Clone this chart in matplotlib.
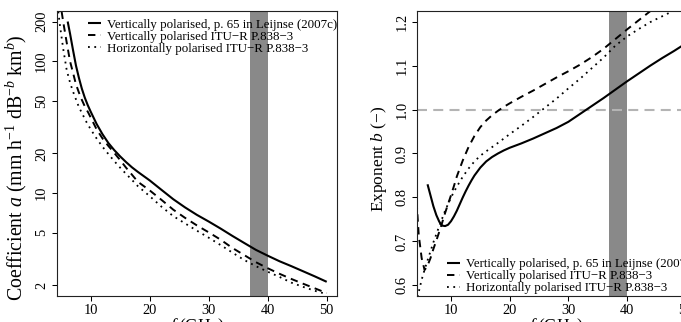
import matplotlib
matplotlib.use('Agg')
import matplotlib.pyplot as plt

plt.rcParams['font.family'] = ['Liberation Serif', 'DejaVu Serif']
plt.rcParams['mathtext.fontset'] = 'custom'
plt.rcParams['mathtext.rm'] = 'Liberation Serif'
plt.rcParams['mathtext.it'] = 'Liberation Serif:italic'
plt.rcParams['mathtext.bf'] = 'Liberation Serif:bold'

# ---------------- data ----------------
# Left panel: coefficient a
f_leij_a = [6.1, 6.5, 7.0, 7.5, 8.0, 8.5, 9.0, 9.5, 10, 11, 12, 13, 14, 15, 16, 17, 18,
            20, 22, 24, 26, 28, 30, 32, 34, 36, 38, 40, 42, 44, 46, 48, 50]
a_leij = [200, 162, 122, 93, 75, 62, 53, 46.5, 41.5, 33.5, 28, 24, 21.2, 19.0, 17.2, 15.7, 14.5,
          12.5, 10.6, 9.0, 7.8, 6.85, 6.1, 5.4, 4.75, 4.2, 3.72, 3.36, 3.05, 2.8, 2.56, 2.34, 2.13]

f_itu_v_a = [4.6, 5.0, 5.36, 5.93, 6.5, 7.0, 7.5, 8.0, 8.5, 9.0, 9.6, 10, 11, 12, 13, 14, 15, 16,
             17, 18, 20, 22, 24, 26, 28, 30, 32, 34, 36, 38, 40, 42, 44, 46, 48, 50]
a_itu_v = [330, 250, 197, 139, 100, 82, 67, 58, 51, 45.5, 40.7, 37.5, 30.5, 26, 22.8, 20.2, 17.8, 15.6,
           13.8, 12.2, 10.5, 8.9, 7.5, 6.5, 5.7, 5.05, 4.45, 3.85, 3.4, 3.0, 2.7, 2.45, 2.24, 2.06, 1.9, 1.75]

f_itu_h_a = [4.3, 4.5, 4.8, 5.0, 5.36, 5.93, 6.5, 7.0, 7.5, 8.0, 8.7, 9.3, 10, 11, 12, 13, 14, 15,
             16, 17, 18, 20, 22, 24, 26, 28, 30, 32, 34, 36, 38, 40, 42, 44, 46, 48, 50]
a_itu_h = [300, 240, 185, 160, 123, 86, 69, 59, 51.5, 45, 39, 34.5, 30.5, 26, 22.5, 19.8, 17.5, 15.6,
           14.0, 12.6, 11.3, 9.5, 7.9, 6.7, 5.9, 5.2, 4.6, 4.05, 3.55, 3.12, 2.8, 2.54, 2.32, 2.1, 1.95, 1.82, 1.72]

# Right panel: exponent b
f_leij_b = [6.0, 6.5, 7.0, 7.5, 8.0, 8.5, 9.0, 9.5, 10.0, 10.5, 11.0, 11.5, 12.0, 12.5, 13.0, 13.5,
            14.0, 15.0, 16.0, 17.0, 18.0, 19.0, 20.0, 22.0, 24.0, 26.0, 28.0, 30.0, 32.0, 34.0,
            36.0, 38.0, 40.0, 42.0, 44.0, 46.0, 48.0, 50.0]
b_leij = [0.830, 0.805, 0.780, 0.760, 0.745, 0.736, 0.735, 0.738, 0.746, 0.757, 0.770, 0.785, 0.800,
          0.814, 0.827, 0.839, 0.850, 0.868, 0.882, 0.892, 0.900, 0.907, 0.913, 0.923, 0.934, 0.946,
          0.958, 0.972, 0.990, 1.008, 1.026, 1.045, 1.064, 1.082, 1.100, 1.117, 1.133, 1.150]

f_itu_v_b = [4.0, 4.24, 4.5, 5.0, 5.5, 6.0, 6.5, 7.0, 7.5, 8.0, 8.5, 9.0, 9.5, 10, 10.5, 11, 11.5,
             12, 13, 14, 15, 16, 17, 18, 19, 20, 22, 24, 26, 28, 30, 32, 34, 36, 38, 40, 42, 44,
             46, 48, 50]
b_itu_v = [0.82, 0.77, 0.715, 0.662, 0.635, 0.645, 0.662, 0.683, 0.702, 0.722, 0.743, 0.765, 0.785,
           0.805, 0.826, 0.848, 0.866, 0.884, 0.915, 0.940, 0.960, 0.975, 0.987, 0.997, 1.006, 1.014,
           1.029, 1.043, 1.058, 1.073, 1.087, 1.102, 1.119, 1.138, 1.160, 1.182, 1.203, 1.224,
           1.245, 1.265, 1.285]

f_itu_h_b = [4.0, 4.5, 5.0, 5.5, 6.0, 7.0, 8.0, 9.0, 10.0, 11.0, 12.0, 13.0, 14.0, 15.0, 16.0, 18.0,
             20.0, 22.0, 24.0, 26.0, 28.0, 30.0, 32.0, 34.0, 36.0, 38.0, 40.0, 42.0, 44.0, 46.0,
             48.0, 50.0]
b_itu_h = [0.545, 0.585, 0.613, 0.636, 0.657, 0.698, 0.735, 0.770, 0.800, 0.825, 0.847, 0.866, 0.882,
           0.895, 0.905, 0.924, 0.944, 0.963, 0.983, 1.004, 1.025, 1.048, 1.07, 1.094, 1.118, 1.145,
           1.166, 1.183, 1.199, 1.212, 1.225, 1.238]

band = (37, 40)
labels = ["Vertically polarised, p. 65 in Leijnse (2007c)",
          "Vertically polarised ITU\u2212R P.838\u22123",
          "Horizontally polarised ITU\u2212R P.838\u22123"]
xticks = [10, 20, 30, 40, 50]
a_ticks = [2, 5, 10, 20, 50, 100, 200]
b_ticks = [0.6, 0.7, 0.8, 0.9, 1.0, 1.1, 1.2]

# ---------------- figure ----------------
W, H = 681, 322
fig = plt.figure(figsize=(W / 100, H / 100), dpi=100)

def px_axes(x0, x1, y0, y1):
    return fig.add_axes([x0 / W, 1 - y1 / H, (x1 - x0) / W, (y1 - y0) / H])

ax1 = px_axes(56.7, 337.1, 11, 296)
ax2 = px_axes(417.2, 696.0, 11, 296)
AW1, AW2, AH = 337.1 - 56.7, 696.0 - 417.2, 285.0

solid_kw = dict(color='black', lw=1.5, linestyle='-', solid_capstyle='butt')
dash_kw = dict(color='black', lw=1.4, linestyle=(0, (3.8, 2.8)))
dot_kw = dict(color='black', lw=1.3, linestyle=(0, (1.0, 2.5)))

for ax in (ax1, ax2):
    ax.axvspan(band[0], band[1], color='#898989', lw=0, zorder=0)
    ax.set_xlim(4.24, 51.76)
    ax.set_xticks(xticks)
    ax.set_xticklabels([str(t) for t in xticks])
    ax.tick_params(direction='out', length=3.3, width=0.75, labelsize=10.4, color='black')
    ax.tick_params(axis='x', pad=2.5)
    ax.tick_params(axis='y', pad=3.0)
    for s in ax.spines.values():
        s.set_linewidth(0.8)
        s.set_color('#222222')

# left panel
ax1.set_yscale('log')
l1, = ax1.plot(f_leij_a, a_leij, **solid_kw)
l2, = ax1.plot(f_itu_v_a, a_itu_v, **dash_kw)
l3, = ax1.plot(f_itu_h_a, a_itu_h, **dot_kw)
ax1.set_ylim(1.663, 240.4)
ax1.set_yticks(a_ticks)
ax1.set_yticklabels([str(t) for t in a_ticks])
ax1.yaxis.set_minor_locator(matplotlib.ticker.NullLocator())
ax1.set_ylabel("Coefficient $a$ (mm h$^{-1}$ dB$^{-b}$ km$^{b}$)", fontsize=14.3)
ax1.yaxis.set_label_coords((29.5 - 56.7) / AW1, 0.45)
ax1.set_xlabel("$f$ (GHz)", fontsize=12.5)
ax1.xaxis.set_label_coords(0.5, -20 / AH)

# right panel
ax2.axhline(1.0, color='#b4b4b4', lw=1.5, linestyle=(0, (4.8, 3.0)), zorder=1)
ax2.plot(f_leij_b, b_leij, **solid_kw)
ax2.plot(f_itu_v_b, b_itu_v, **dash_kw)
ax2.plot(f_itu_h_b, b_itu_h, **dot_kw)
ax2.set_ylim(0.576, 1.224)
ax2.set_yticks(b_ticks)
ax2.set_yticklabels([f"{t:.1f}" for t in b_ticks])
ax2.set_ylabel("Exponent $b$ (\u2212)", fontsize=12.5)
ax2.yaxis.set_label_coords((389 - 417.2) / AW2, 0.48)
ax2.set_xlabel("$f$ (GHz)", fontsize=12.5)
ax2.xaxis.set_label_coords(0.5, -20 / AH)

for ax in (ax1, ax2):
    for lab in ax.get_yticklabels():
        lab.set_rotation(90)
        lab.set_va('center')
        lab.set_ha('right')

leg_kw = dict(frameon=False, fontsize=9.3, handlelength=1.0, handletextpad=0.47,
              labelspacing=0.0, borderpad=0, borderaxespad=0)
leg1 = ax1.legend([l1, l2, l3], labels, loc='upper left',
                  bbox_to_anchor=((88 - 56.7) / AW1, 1 - 7.5 / AH), **leg_kw)
leg2 = ax2.legend([l1, l2, l3], labels, loc='lower left',
                  bbox_to_anchor=((447 - 417.2) / AW2, 1.5 / AH), **leg_kw)
for leg in (leg1, leg2):
    leg.set_zorder(5)
    for t in leg.get_texts():
        t.set_clip_on(False)

fig.savefig('out.png', dpi=100)
